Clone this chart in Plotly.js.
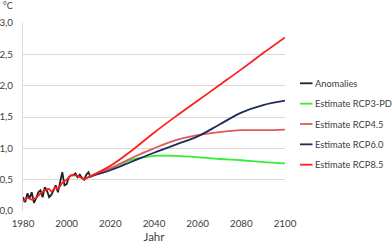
<!DOCTYPE html>
<html>
<head>
<meta charset="utf-8">
<script src="https://cdn.plot.ly/plotly-3.0.1.min.js"></script>
<style>html,body{margin:0;padding:0;background:#fff;}#chart{width:392px;height:245px;}</style>
</head>
<body>
<div id="chart"></div>
<script>
// Observed anomalies (yearly)
const histYears = [1980,1981,1982,1983,1984,1985,1986,1987,1988,1989,1990,1991,1992,1993,1994,1995,1996,1997,1998,1999,2000,2001,2002,2003,2004,2005,2006,2007,2008,2009,2010,2011];
const anomalies = [0.22,0.14,0.28,0.20,0.30,0.13,0.20,0.30,0.33,0.22,0.38,0.32,0.22,0.26,0.33,0.41,0.30,0.46,0.62,0.41,0.43,0.54,0.57,0.57,0.60,0.54,0.58,0.53,0.50,0.58,0.62,0.53];
// Smoothed history (shown under RCP8.5 colour)
const trendYears = [1980,1982,1984,1986,1988,1990,1992,1993,1995,1996,1998,2000,2002,2005,2008,2010];
const trendValues = [0.15,0.21,0.18,0.21,0.28,0.33,0.35,0.31,0.38,0.35,0.45,0.50,0.57,0.56,0.51,0.54];
// Projections
const estYears = [2010,2020,2030,2040,2050,2060,2070,2080,2090,2100];
const rcp3pd = [0.54,0.68,0.82,0.88,0.88,0.86,0.83,0.81,0.78,0.76];
const rcp45 = [0.54,0.68,0.85,1.00,1.13,1.21,1.26,1.29,1.29,1.30];
const rcp60 = [0.54,0.65,0.79,0.93,1.06,1.19,1.38,1.57,1.69,1.76];
const rcp85 = [0.54,0.72,0.97,1.25,1.51,1.76,2.01,2.26,2.52,2.77];
const seriesNames = ['Anomalies','Estimate RCP3-PD','Estimate RCP4.5','Estimate RCP6.0','Estimate RCP8.5'];
const seriesColors = ['#222222','#33ee33','#dc5a5a','#1f2b5c','#ff1f1f'];
const xTicks = [1980,2000,2020,2040,2060,2080,2100];
const yTicks = [0,0.5,1,1.5,2,2.5,3];

const FONT = 'Lato, "Liberation Sans", sans-serif';
const TXT = '#404040';

const traces = [
  {x: histYears, y: anomalies, mode:'lines', line:{color:seriesColors[0], width:1.8}, name:seriesNames[0], showlegend:false},
  {x: estYears, y: rcp3pd, mode:'lines', line:{color:seriesColors[1], width:1.8, shape:'spline'}, name:seriesNames[1], showlegend:false},
  {x: estYears, y: rcp45, mode:'lines', line:{color:seriesColors[2], width:1.8, shape:'spline'}, name:seriesNames[2], showlegend:false},
  {x: estYears, y: rcp60, mode:'lines', line:{color:seriesColors[3], width:1.8, shape:'spline'}, name:seriesNames[3], showlegend:false},
  {x: trendYears.concat(estYears.slice(1)), y: trendValues.concat(rcp85.slice(1)), mode:'lines', line:{color:seriesColors[4], width:1.8, shape:'spline', smoothing:0.8}, name:seriesNames[4], showlegend:false}
];

// Custom legend (short swatches like the original)
const L = 23, R = 107, T = 23, B = 34, W = 392, H = 245;
const pw = W - L - R, ph = H - T - B;
const px2x = p => (p - L) / pw;
const py2y = p => (H - B - p) / ph;
const shapes = [], annotations = [];
seriesNames.forEach((n, i) => {
  const yy = py2y(83.3 + i * 20.35);
  shapes.push({type:'line', xref:'paper', yref:'paper', x0:px2x(300), x1:px2x(312.5), y0:yy, y1:yy, line:{color:seriesColors[i], width:1.8}});
  annotations.push({xref:'paper', yref:'paper', x:px2x(313), y:yy, xanchor:'left', yanchor:'middle', text:n, showarrow:false, font:{family:FONT, size:9.3, color:TXT}});
});
annotations.push({xref:'paper', yref:'paper', x:px2x(1), y:py2y(6), xanchor:'left', yanchor:'middle', text:'°C', showarrow:false, font:{family:FONT, size:9, color:TXT}});

const layout = {
  width: W, height: H,
  margin: {l:L, r:R, t:T, b:B, pad:0},
  paper_bgcolor:'#fff', plot_bgcolor:'#fff',
  separators: ', ',
  showlegend:false,
  font:{family:FONT, size:9.8, color:TXT},
  xaxis: {range:[1980,2100], tickvals:xTicks, showgrid:false, zeroline:false, showline:false, ticks:'',
          tickfont:{family:FONT, size:9.8, color:TXT}, ticklabelstandoff:5,
          title:{text:'Jahr', font:{family:FONT, size:11.5, color:TXT}, standoff:5}},
  yaxis: {range:[0,3], tickvals:yTicks, tickformat:'.1f', showgrid:true, gridcolor:'#d9d9d9', gridwidth:1,
          zeroline:false, showline:true, linecolor:'#d9d9d9', linewidth:1, ticks:'',
          tickfont:{family:FONT, size:9.8, color:TXT}, ticklabelstandoff:7},
  shapes: shapes,
  annotations: annotations
};

Plotly.newPlot('chart', traces, layout, {staticPlot:true, displayModeBar:false});
</script>
</body>
</html>
